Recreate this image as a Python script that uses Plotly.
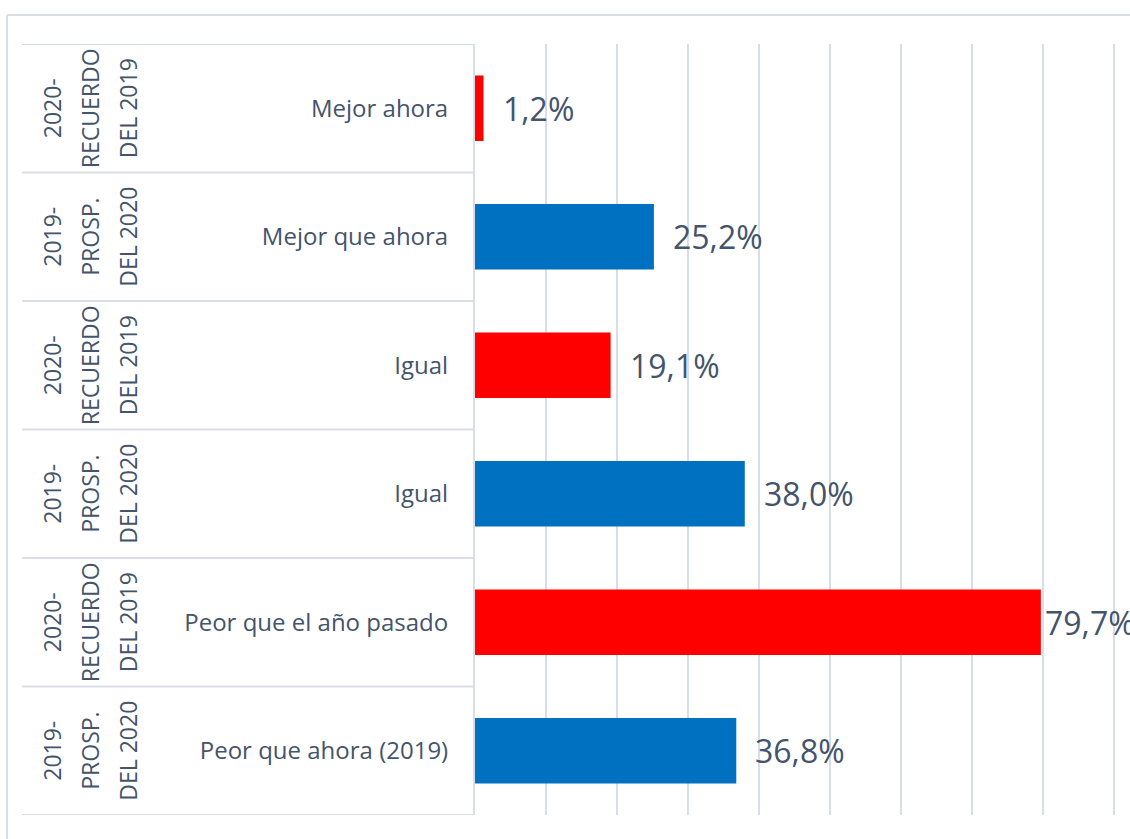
import plotly.graph_objects as go

# chart data, top row first
groups = ["2020-RECUERDO DEL 2019", "2019-PROSP. DEL 2020",
          "2020-RECUERDO DEL 2019", "2019-PROSP. DEL 2020",
          "2020-RECUERDO DEL 2019", "2019-PROSP. DEL 2020"]
group_lines = {
    "2020-RECUERDO DEL 2019": ["2020-", "RECUERDO", "DEL 2019"],
    "2019-PROSP. DEL 2020": ["2019-", "PROSP.", "DEL 2020"],
}
answers = ["Mejor ahora", "Mejor que ahora", "Igual", "Igual",
           "Peor que el año pasado", "Peor que ahora (2019)"]
values = [1.2, 25.2, 19.1, 38.0, 79.7, 36.8]
labels = ["1,2%", "25,2%", "19,1%", "38,0%", "79,7%", "36,8%"]

RED = "#FF0000"
BLUE = "#0070C0"
TEXT = "#44546A"
LINE = "#D9DEE6"
FONT = "Open Sans"

PLOT_L, PLOT_W, PLOT_H = 475, 655, 771

rows = list(range(len(answers)))
colors = [RED if g.startswith("2020") else BLUE for g in groups]

fig = go.Figure()
fig.add_trace(go.Bar(
    x=values, y=rows, orientation="h",
    marker=dict(color=colors, line=dict(width=0)),
    width=0.51, hoverinfo="skip", showlegend=False,
))

# data labels (the longest one is squeezed against its bar, like the original)
for r, v, t in zip(rows, values, labels):
    fig.add_annotation(x=v, y=r, text=t, showarrow=False, xanchor="left",
                       xshift=2 if v > 75 else 17,
                       font=dict(size=32, color=TEXT, family=FONT))

# outer category labels, one rotated annotation per line
line_px = [52, 90, 128]
for r, g in zip(rows, groups):
    for px, txt in zip(line_px, group_lines[g]):
        fig.add_annotation(x=(px - PLOT_L) / PLOT_W, xref="paper", y=r, yref="y",
                           text=txt, textangle=-90, showarrow=False,
                           xanchor="center", yanchor="middle",
                           font=dict(size=23, color=TEXT, family=FONT))

# table lines between rows
for b in [r - 0.5 for r in rows] + [rows[-1] + 0.5]:
    fig.add_shape(type="line", xref="paper", yref="y",
                  x0=(22 - PLOT_L) / PLOT_W, x1=0, y0=b, y1=b,
                  line=dict(color=LINE, width=2))

# chart area border (top and left)
top = 1 + 29 / PLOT_H
left = (7 - PLOT_L) / PLOT_W
fig.add_shape(type="line", xref="paper", yref="paper",
              x0=left, x1=1.05, y0=top, y1=top,
              line=dict(color=LINE, width=2))
fig.add_shape(type="line", xref="paper", yref="paper",
              x0=left, x1=left, y0=top, y1=-0.06,
              line=dict(color=LINE, width=2))

fig.update_layout(
    width=1130, height=839,
    margin=dict(l=PLOT_L, r=0, t=44, b=24),
    paper_bgcolor="white", plot_bgcolor="white",
    font=dict(family=FONT, color=TEXT),
    bargap=0.49,
)
fig.update_xaxes(range=[0, PLOT_W / 7.1], dtick=10, showgrid=True, gridcolor=LINE,
                 gridwidth=2, zeroline=False, showticklabels=False, fixedrange=True)
fig.update_yaxes(tickmode="array", tickvals=rows, ticktext=answers,
                 range=[rows[-1] + 0.5, -0.5], showgrid=False, zeroline=False,
                 showline=True, linecolor=LINE, linewidth=2,
                 ticks="", ticklabelstandoff=20,
                 tickfont=dict(size=24, color=TEXT, family=FONT))

# drop the default page margin so the figure fills the window exactly
fig.write_html("out.html", config={"displayModeBar": False},
               post_script="document.body.style.margin = '0';")
